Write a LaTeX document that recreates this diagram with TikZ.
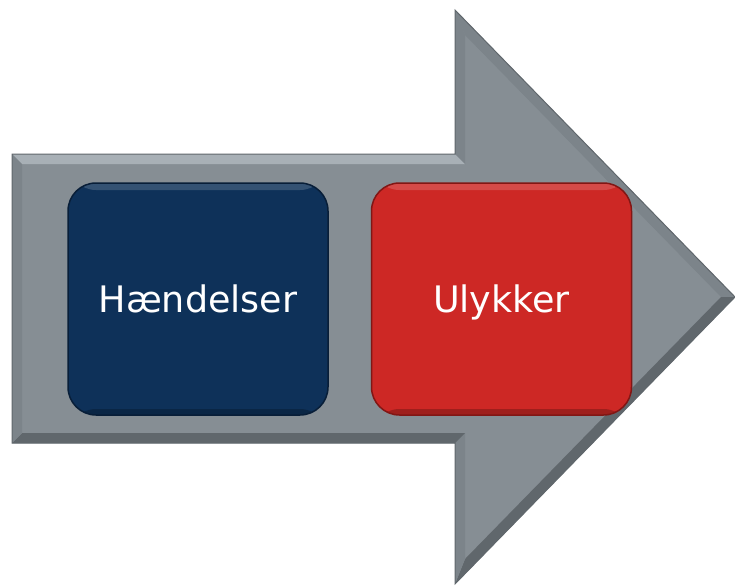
\documentclass[tikz,border=0pt]{standalone}
\usepackage{fontspec}
\setsansfont{DejaVu Sans}
\usepackage{tikz}
\usetikzlibrary{positioning}
\definecolor{arrowgray}{RGB}{134,142,148}
\definecolor{arrowlight}{RGB}{168,176,182}
\definecolor{arrowmid}{RGB}{124,132,138}
\definecolor{arrowdark}{RGB}{96,103,108}
\definecolor{eventblue}{RGB}{14,49,89}
\definecolor{eventblueline}{RGB}{8,30,56}
\definecolor{accidentred}{RGB}{205,40,37}
\definecolor{accidentredline}{RGB}{130,22,20}

\tikzset{
  stepbox/.style={rounded corners=28pt, minimum width=260pt, minimum height=232pt,
    line width=1.5pt, text=white, text depth=0pt,
    font=\sffamily\fontsize{36.5}{44}\selectfont,
    path picture={
      \fill[white,opacity=.16] (path picture bounding box.north west) rectangle ([yshift=-7pt]path picture bounding box.north east);
      \fill[black,opacity=.22] (path picture bounding box.south west) rectangle ([yshift=6pt]path picture bounding box.south east);
    }},
  bluebox/.style={stepbox, fill=eventblue, draw=eventblueline},
  redbox/.style={stepbox, fill=accidentred, draw=accidentredline}
}

\begin{document}
\begin{tikzpicture}[x=1pt,y=-1pt]
\useasboundingbox (0,0) rectangle (735,586);
\fill[arrowgray] (12,154) -- (455,154) -- (455,10) -- (735,297) -- (455,584) -- (455,443) -- (12,443) -- cycle;
\fill[arrowlight] (12,154) -- (455,154) -- (465,164) -- (22,164) -- cycle;
\fill[arrowmid] (455,154) -- (455,10) -- (465,35) -- (465,164) -- cycle;
\fill[arrowmid] (455,10) -- (735,297) -- (721,297) -- (465,35) -- cycle;
\fill[arrowdark] (735,297) -- (455,584) -- (465,559) -- (721,297) -- cycle;
\fill[arrowmid] (455,584) -- (455,443) -- (465,433) -- (465,559) -- cycle;
\fill[arrowdark] (455,443) -- (12,443) -- (22,433) -- (465,433) -- cycle;
\fill[arrowmid] (12,443) -- (12,154) -- (22,164) -- (22,433) -- cycle;
\draw[arrowdark,line width=1pt] (12,154) -- (455,154) -- (455,10) -- (735,297) -- (455,584) -- (455,443) -- (12,443) -- cycle;
\node[bluebox] (haendelser) at (198,299) {Hændelser};
\node[redbox, right=42pt of haendelser] (ulykker) {Ulykker};
\end{tikzpicture}
\end{document}
